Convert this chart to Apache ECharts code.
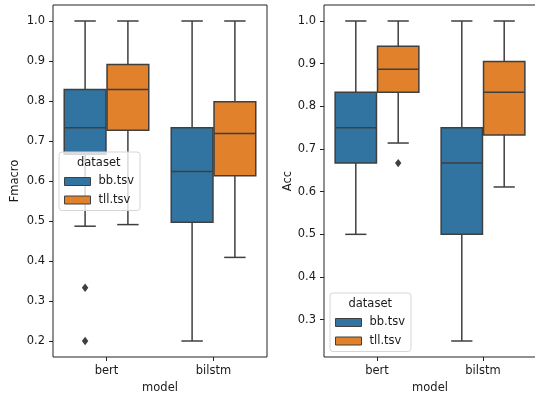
<!DOCTYPE html>
<html>
<head>
<meta charset="utf-8">
<script src="https://cdn.jsdelivr.net/npm/echarts@6/dist/echarts.min.js"></script>
<style>
html,body{margin:0;padding:0;background:#fff;}
#chart{width:535px;height:396px;}
</style>
</head>
<body>
<div id="chart"></div>
<script>
// ---- data ----
const categories = ['bert', 'bilstm'];
const hues = ['bb.tsv', 'tll.tsv'];
// [categoryIndex, whiskerLow, Q1, median, Q3, whiskerHigh]
const fmacroBB  = [[0, 0.487, 0.667, 0.733, 0.829, 1.0], [1, 0.200, 0.497, 0.624, 0.733, 1.0]];
const fmacroTLL = [[0, 0.491, 0.727, 0.829, 0.891, 1.0], [1, 0.409, 0.613, 0.719, 0.798, 1.0]];
const fmacroBBOutliers = [[0, 0.333], [0, 0.200]];
const accBB  = [[0, 0.500, 0.667, 0.750, 0.833, 1.0], [1, 0.250, 0.500, 0.667, 0.750, 1.0]];
const accTLL = [[0, 0.714, 0.833, 0.887, 0.941, 1.0], [1, 0.611, 0.733, 0.833, 0.905, 1.0]];
const accTLLOutliers = [[0, 0.667]];
const fmacroTicks = [0.2, 0.3, 0.4, 0.5, 0.6, 0.7, 0.8, 0.9, 1.0];
const accTicks = [0.3, 0.4, 0.5, 0.6, 0.7, 0.8, 0.9, 1.0];

// ---- style ----
const COLORS = ['#3274a1', '#e1812c'];
const EDGE = '#3f3f3f';
const TEXT = '#1a1a1a';
const FONT = 'DejaVu Sans';
const FS = 11.5;
const LW = 1.5;

function boxRender(offsetFrac, color) {
  return function (params, api) {
    const cat = api.value(0);
    const band = api.size([0, 0])[0];
    const cx = api.coord([cat, api.value(3)])[0] + offsetFrac * band;
    const yLo = api.coord([cat, api.value(1)])[1];
    const yQ1 = api.coord([cat, api.value(2)])[1];
    const yMed = api.coord([cat, api.value(3)])[1];
    const yQ3 = api.coord([cat, api.value(4)])[1];
    const yHi = api.coord([cat, api.value(5)])[1];
    const bw = band * 0.39;
    const cw = band * 0.2;
    const ls = { stroke: EDGE, lineWidth: LW };
    return {
      type: 'group',
      children: [
        { type: 'line', shape: { x1: cx, y1: yHi, x2: cx, y2: yQ3 }, style: ls },
        { type: 'line', shape: { x1: cx, y1: yQ1, x2: cx, y2: yLo }, style: ls },
        { type: 'line', shape: { x1: cx - cw / 2, y1: yHi, x2: cx + cw / 2, y2: yHi }, style: ls },
        { type: 'line', shape: { x1: cx - cw / 2, y1: yLo, x2: cx + cw / 2, y2: yLo }, style: ls },
        { type: 'rect', shape: { x: cx - bw / 2, y: yQ3, width: bw, height: yQ1 - yQ3 },
          style: { fill: color, stroke: EDGE, lineWidth: LW } },
        { type: 'line', shape: { x1: cx - bw / 2, y1: yMed, x2: cx + bw / 2, y2: yMed }, style: ls }
      ]
    };
  };
}

function outlierRender(offsetFrac) {
  return function (params, api) {
    const cat = api.value(0);
    const band = api.size([0, 0])[0];
    const p = api.coord([cat, api.value(1)]);
    const cx = p[0] + offsetFrac * band, cy = p[1];
    const hw = 3.2, hh = 4.2;
    return {
      type: 'polygon',
      shape: { points: [[cx, cy - hh], [cx + hw, cy], [cx, cy + hh], [cx - hw, cy]] },
      style: { fill: EDGE }
    };
  };
}

function boxSeries(name, data, idx, hueIdx) {
  return {
    type: 'custom', name: name, xAxisIndex: idx, yAxisIndex: idx,
    itemStyle: { color: COLORS[hueIdx] },
    encode: { x: 0, y: [1, 2, 3, 4, 5] },
    renderItem: boxRender(hueIdx === 0 ? -0.2 : 0.2, COLORS[hueIdx]),
    data: data, z: 2
  };
}
function outlierSeries(data, idx, hueIdx) {
  return {
    type: 'custom', xAxisIndex: idx, yAxisIndex: idx,
    encode: { x: 0, y: 1 },
    renderItem: outlierRender(hueIdx === 0 ? -0.2 : 0.2),
    data: data, z: 3
  };
}

function xAxis(gridIndex) {
  return {
    type: 'category', gridIndex: gridIndex, data: categories,
    name: 'model', nameLocation: 'middle', nameGap: 25.5,
    nameTextStyle: { fontFamily: FONT, fontSize: FS, color: TEXT },
    axisLine: { show: false },
    axisTick: { show: true, alignWithLabel: true, length: 4, lineStyle: { color: '#222', width: 1 } },
    axisLabel: { fontFamily: FONT, fontSize: FS, color: TEXT, margin: 8.5 },
    splitLine: { show: false }
  };
}
function yAxis(gridIndex, name, min, max, ticks, nameGap) {
  return {
    type: 'value', gridIndex: gridIndex, min: min, max: max,
    name: name, nameLocation: 'middle', nameGap: nameGap,
    nameTextStyle: { fontFamily: FONT, fontSize: FS, color: TEXT },
    axisLine: { show: false },
    axisTick: { show: true, length: 4, customValues: ticks, lineStyle: { color: '#222', width: 1 } },
    axisLabel: { fontFamily: FONT, fontSize: FS, color: TEXT, margin: 8, customValues: ticks,
      formatter: function (v) { return v.toFixed(1); } },
    splitLine: { show: false }
  };
}
function legend(left, top) {
  return {
    data: hues, orient: 'vertical', left: left, top: top,
    icon: 'rect', itemWidth: 26, itemHeight: 8, itemGap: 5.5,
    padding: [23, 6, 4, 5],
    backgroundColor: 'rgba(255,255,255,0.8)', borderColor: '#d6d6d6', borderWidth: 1, borderRadius: 3,
    itemStyle: { borderColor: EDGE, borderWidth: 1 },
    textStyle: { fontFamily: FONT, fontSize: FS, color: TEXT, lineHeight: 13, padding: [0, 0, 0, 3] },
    selectedMode: false, z: 10
  };
}
function legendTitle(left, top) {
  return {
    text: 'dataset', left: left, top: top, padding: 0,
    textStyle: { fontFamily: FONT, fontSize: FS, fontWeight: 'normal', color: TEXT }, z: 12
  };
}

const chart = echarts.init(document.getElementById('chart'), null, { renderer: 'canvas' });
chart.setOption({
  animation: false,
  backgroundColor: '#fff',
  title: [legendTitle(77, 157), legendTitle(348.5, 298)],
  legend: [legend(59, 152), legend(330, 293)],
  grid: [
    { left: 53, top: 5, width: 214, height: 352, show: true, borderColor: '#222', borderWidth: 1,
      backgroundColor: 'transparent', containLabel: false, outerBoundsMode: 'none' },
    { left: 324, top: 5, width: 212, height: 352, show: true, borderColor: '#222', borderWidth: 1,
      backgroundColor: 'transparent', containLabel: false, outerBoundsMode: 'none' }
  ],
  xAxis: [xAxis(0), xAxis(1)],
  yAxis: [yAxis(0, 'Fmacro', 0.16, 1.04, fmacroTicks, 32), yAxis(1, 'Acc', 0.2125, 1.0375, accTicks, 29)],
  series: [
    boxSeries('bb.tsv', fmacroBB, 0, 0),
    boxSeries('tll.tsv', fmacroTLL, 0, 1),
    outlierSeries(fmacroBBOutliers, 0, 0),
    boxSeries('bb.tsv', accBB, 1, 0),
    boxSeries('tll.tsv', accTLL, 1, 1),
    outlierSeries(accTLLOutliers, 1, 1)
  ]
});
</script>
</body>
</html>
